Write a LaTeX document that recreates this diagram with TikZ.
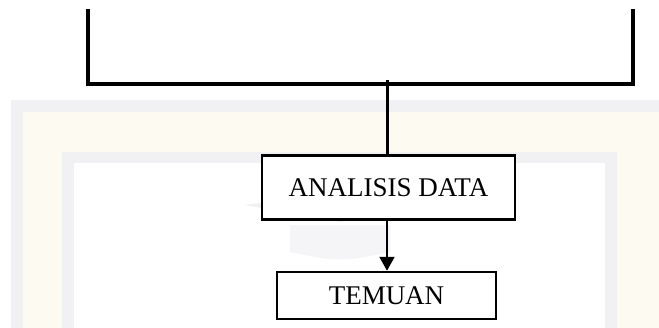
\documentclass[tikz,border=0pt]{standalone}
\usepackage{fontspec}
\setmainfont{Liberation Serif}
\usetikzlibrary{arrows.meta}
\definecolor{wmgrey}{HTML}{F1F1F3}
\definecolor{wmcream}{HTML}{FDFBF1}
\tikzset{
  box/.style={draw=black, line width=2.5pt, fill=white, inner sep=0pt,
    font=\fontsize{27}{31}\selectfont},
  bracket/.style={draw=black, line width=4pt},
  stem/.style={draw=black, line width=3pt},
  arr/.style={draw=black, line width=2pt, -{Triangle[width=15pt,length=14pt]}},
}
\begin{document}
\begin{tikzpicture}[x=1pt,y=-1pt]
\useasboundingbox (0,0) rectangle (659,327);
% faint watermark frame
\fill[wmgrey] (10.5,100) rectangle (670,330);
\fill[wmcream] (23,112) rectangle (670,330);
\fill[wmgrey] (62,152) rectangle (617,330);
\fill[white] (74,163) rectangle (605,330);
\fill[wmgrey] (245,205) -- (340,192) -- (435,205) -- (340,222) -- cycle;
\fill[wmgrey!70] (290,225) -- (390,225) -- (390,252) .. controls (340,262) .. (290,252) -- cycle;
% nodes
\node[box, minimum width=253pt, minimum height=64pt] (ad) at (388.5,187.5) {ANALISIS DATA};
\node[box, minimum width=219pt, minimum height=47pt] (tm) at (386.5,295.5) {TEMUAN};
% top bracket
\coordinate (l1) at (88,9);
\coordinate (l2) at (88,84);
\coordinate (r2) at (633,84);
\coordinate (r1) at (633,9);
\coordinate (j) at (387,80);
\draw[bracket] (l1) -- (l2) -- (r2) -- (r1);
\draw[stem] (j) -- (j |- ad.north);
\draw[arr] (j |- ad.south) -- (j |- tm.north);
\end{tikzpicture}
\end{document}
